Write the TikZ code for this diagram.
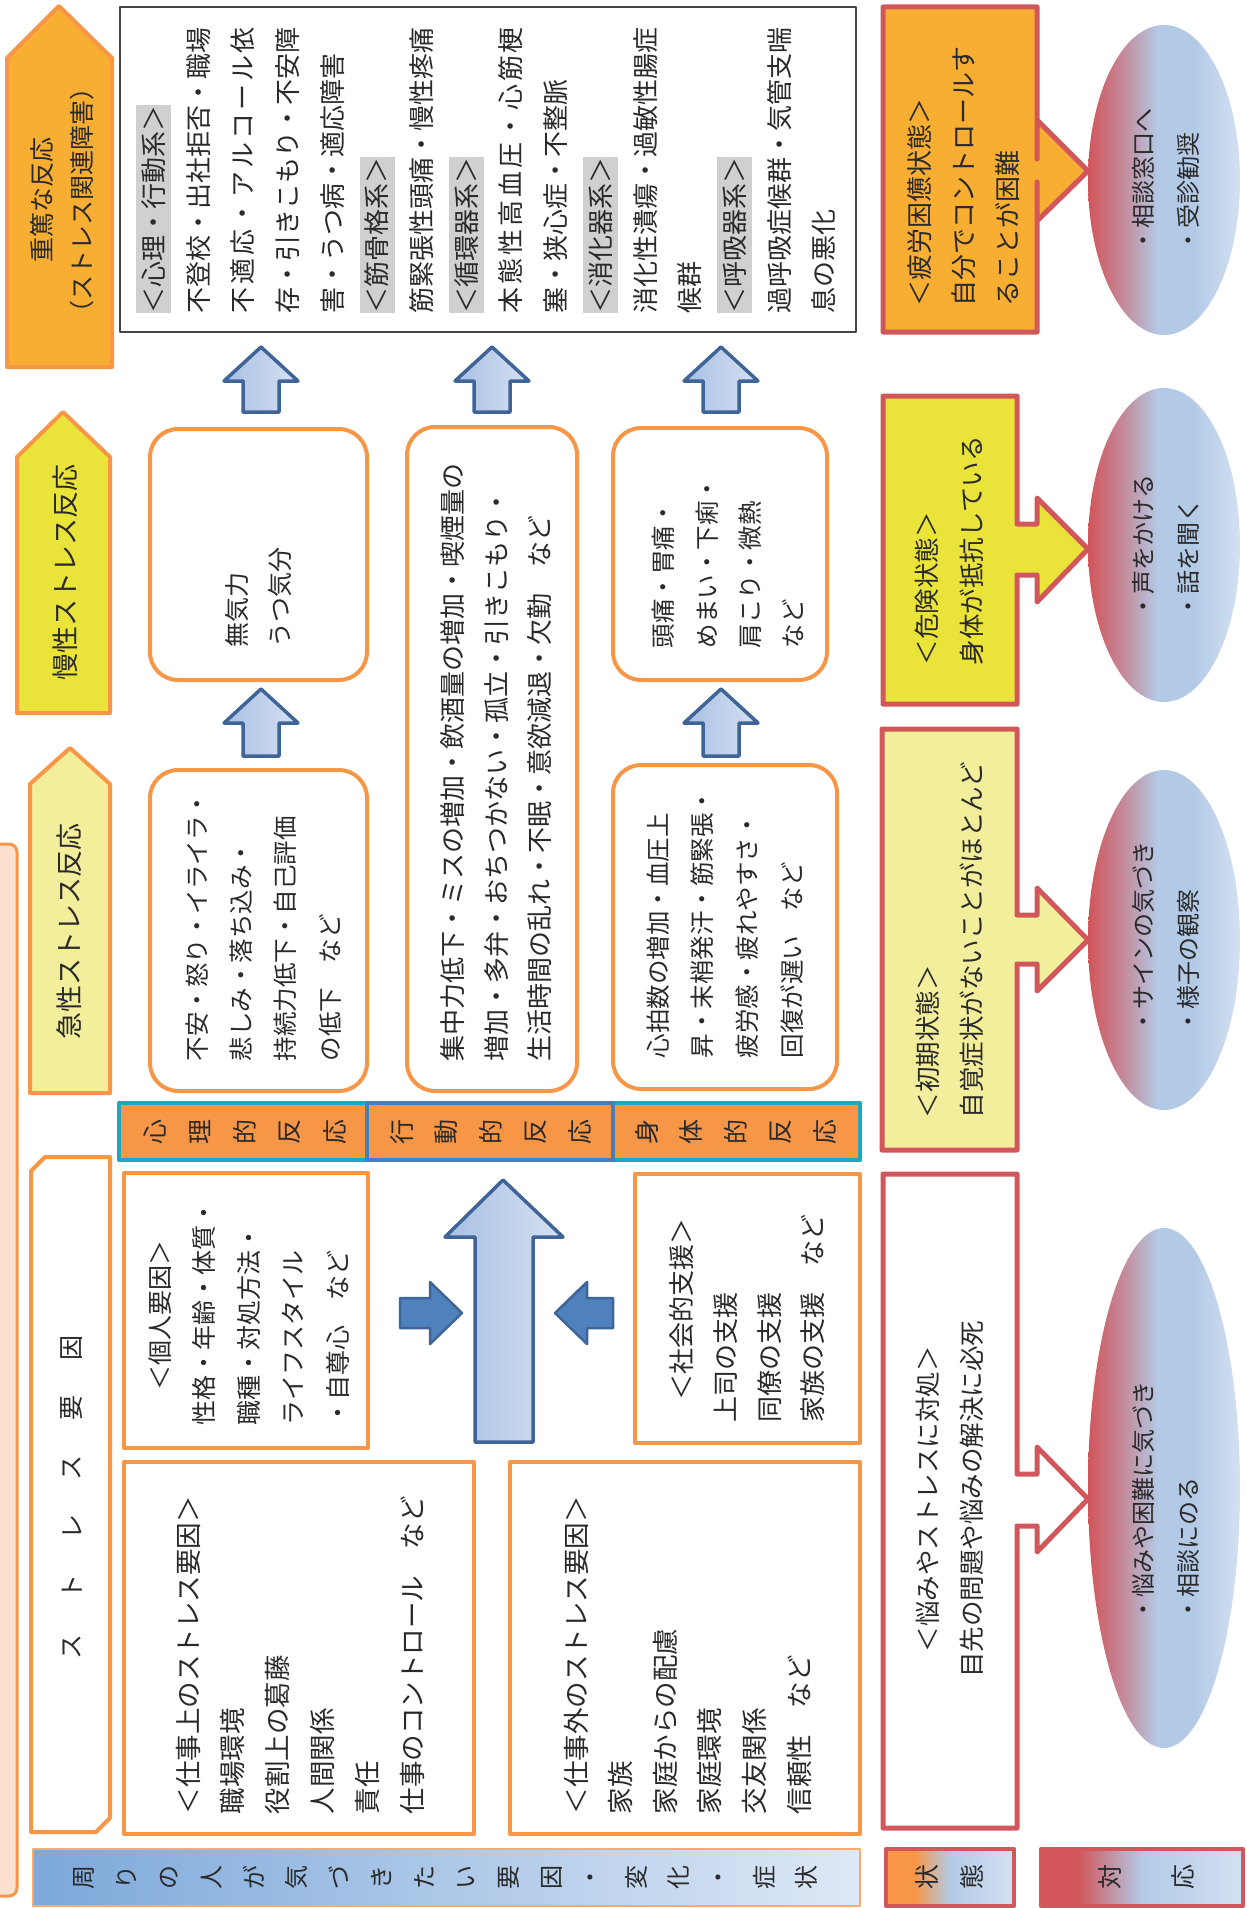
\documentclass[tikz,border=0pt]{standalone}
\usepackage{fontspec}
\setmainfont{Noto Sans CJK JP}
\definecolor{obor}{HTML}{F79646}
\definecolor{ofill}{HTML}{F8AD33}
\definecolor{yel}{HTML}{EAE43A}
\definecolor{pyel}{HTML}{F2EE9B}
\definecolor{peach}{HTML}{FCE0D0}
\definecolor{rbor}{HTML}{D2575B}
\definecolor{tealb}{HTML}{1FA7BC}
\definecolor{bbor}{HTML}{4A7EBB}
\definecolor{abor}{HTML}{3F6598}
\definecolor{afill}{HTML}{4F81BD}
\definecolor{la}{HTML}{A8BFE3}
\definecolor{lb}{HTML}{D6E1F2}
\definecolor{ered}{HTML}{D1555A}
\definecolor{emid}{HTML}{C38C9C}
\definecolor{eblu}{HTML}{B3CAE7}
\definecolor{eblu2}{HTML}{D3E0F1}
\definecolor{sblu}{HTML}{7CA8DA}
\definecolor{sblu2}{HTML}{DEE8F6}
\definecolor{hl}{HTML}{D0D0D0}
\definecolor{txt}{HTML}{2A2A2A}
\definecolor{gbor}{HTML}{444444}
\pgfdeclarehorizontalshading{ellsh}{100bp}{color(0bp)=(ered); color(25bp)=(ered); color(37bp)=(emid); color(48bp)=(eblu); color(60bp)=(eblu); color(75bp)=(eblu2); color(100bp)=(eblu2)}
\pgfdeclarehorizontalshading{stsh}{100bp}{color(0bp)=(obor); color(25bp)=(obor); color(36bp)=(obor); color(50bp)=(eblu); color(75bp)=(eblu2); color(100bp)=(eblu2)}
\pgfdeclarehorizontalshading{tash}{100bp}{color(0bp)=(ered); color(25bp)=(ered); color(34bp)=(ered); color(50bp)=(eblu); color(75bp)=(eblu2); color(100bp)=(eblu2)}
\newcommand\fsz[2]{\fontsize{#1}{#2}\selectfont}
\newcommand\hlb[1]{{\setlength\fboxsep{0pt}\colorbox{hl}{\rule[-0.3em]{0pt}{1.35em}#1}}}
\begin{document}
\begin{tikzpicture}[x=1pt,y=-1pt,line join=round,
  vt/.style={rotate=90,inner sep=0pt,outer sep=0pt,text=txt,align=left},
  ch/.style={rotate=90,inner sep=0pt,text=txt,font=\fsz{25}{30}},
  rbox/.style={draw=obor,line width=4pt,rounded corners=28pt,fill=white},
  obox/.style={draw=obor,line width=4pt,fill=white},
  larrow/.style={draw=abor,line width=3.5pt,left color=la,right color=lb},
  sarrow/.style={draw=abor,line width=2.5pt,fill=afill},
  call/.style={draw=rbor,line width=5pt},
  ell/.style={shading=ellsh},
]
\useasboundingbox (0,0) rectangle (1247,1908);
\clip (0,0) rectangle (1247,1908);

% ---------- left column arrows ----------
\path[draw=obor,line width=4pt,fill=ofill] (7,367) -- (7,58) -- (59,6) -- (112,58) -- (112,367) -- cycle;
\node[vt,align=center,font=\fsz{25}{40}] (severe) at (62,200) {重篤な反応\\（ストレス関連障害）};
\path[draw=obor,line width=4pt,fill=yel] (17,713) -- (17,457) -- (63,412) -- (110,457) -- (110,713) -- cycle;
\node[vt,font=\fsz{27}{30}] (chronic) at (65,572) {慢性ストレス反応};
\path[draw=obor,line width=4pt,fill=pyel] (30,1093) -- (30,784) -- (70,748) -- (110,784) -- (110,1093) -- cycle;
\node[vt,font=\fsz{27}{30}] (acute) at (69,931) {急性ストレス反応};

% peach panel
\path[fill=peach,draw=obor,line width=3pt,rounded corners=8pt] (-30,844) rectangle (17,1896);

% ---------- top text box ----------
\draw[draw=gbor,line width=1.5pt,fill=white] (120,7) rectangle (856,332);
\node[vt,anchor=west,font=\fsz{26}{44.7}] (disease) at (486,313) {%
\hlb{＜心理・行動系＞}\\
不登校・出社拒否・職場\\
\makebox[11em]{不\hfill 適\hfill 応\hfill ・\hfill ア\hfill ル\hfill コ\hfill ー\hfill ル\hfill 依}\\
存・引きこもり・不安障\\
害・うつ病・適応障害\\
\hlb{＜筋骨格系＞}\\
筋緊張性頭痛・慢性疼痛\\
\hlb{＜循環器系＞}\\
\makebox[11em]{本\hfill 態\hfill 性\hfill 高\hfill 血\hfill 圧\hfill ・\hfill 心\hfill 筋\hfill 梗}\\
塞・狭心症・不整脈\\
\hlb{＜消化器系＞}\\
消化性潰瘍・過敏性腸症\\
候群\\
\hlb{＜呼吸器系＞}\\
過呼吸症候群・気管支喘\\
息の悪化};

% ---------- small up arrows ----------
\foreach \cx/\tp/\bt in {261/347/412, 492/347/412, 721/347/412, 261/689/756, 721/689/756}
  \path[larrow] (\cx,\tp) -- (\cx+37,\tp+34) -- (\cx+18,\tp+34) -- (\cx+18,\bt) -- (\cx-18,\bt) -- (\cx-18,\tp+34) -- (\cx-37,\tp+34) -- cycle;

% ---------- reaction boxes ----------
\path[rbox] (150,429) rectangle (367,680);
\node[vt,anchor=west,font=\fsz{25}{43}] (apathy) at (258.5,647) {無気力\\うつ気分};
\path[rbox] (407,427) rectangle (577,1091);
\node[vt,anchor=west,font=\fsz{26}{43.5}] (behav) at (496.5,1061) {集中力低下・ミスの増加・飲酒量の増加・喫煙量の\\増加・多弁・おちつかない・孤立・引きこもり・\\生活時間の乱れ・不眠・意欲減退・欠勤　など};
\path[rbox] (613,428) rectangle (827,680);
\node[vt,anchor=west,font=\fsz{24.5}{43.3}] (somatic) at (728,648) {頭痛・胃痛・\\めまい・下痢・\\肩こり・微熱\\など};
\path[rbox] (150,770) rectangle (367,1091);
\node[vt,anchor=west,font=\fsz{24.5}{44.3}] (anxiety) at (263.5,1061) {不安・怒り・イライラ・\\悲しみ・落ち込み・\\持続力低下・自己評価\\の低下　など};
\path[rbox] (613,765) rectangle (837,1089);
\node[vt,anchor=west,font=\fsz{24.5}{44.7}] (heart) at (725,1058) {心拍数の増加・血圧上\\昇・末梢発汗・筋緊張・\\疲労感・疲れやすさ・\\回復が遅い　など};

% ---------- reaction strip ----------
\path[fill=obor,draw=tealb,line width=4pt] (119,1103) rectangle (367,1160);
\path[fill=obor,draw=tealb,line width=4pt] (613,1103) rectangle (860,1160);
\path[fill=obor,draw=bbor,line width=4pt] (367,1103) rectangle (613,1160);
\foreach \c [count=\i from 0] in {心,理,的,反,応} \node[ch] (ps\i) at ({155+45*\i},1132) {\c};
\foreach \c [count=\i from 0] in {行,動,的,反,応} \node[ch] (bh\i) at ({402+44.5*\i},1132) {\c};
\foreach \c [count=\i from 0] in {身,体,的,反,応} \node[ch] (sm\i) at ({647+44.5*\i},1132) {\c};

% ---------- stress factors ----------
\path[draw=obor,line width=4pt,fill=white] (31,1171) -- (45,1157) -- (110,1157) -- (110,1818) -- (96,1832) -- (31,1832) -- cycle;
\foreach \c [count=\i from 0] in {ス,ト,レ,ス,要,因} \node[ch] (sr\i) at (72,{1647-59.8*\i}) {\c};

\path[obox] (124,1173) rectangle (368,1448);
\node[vt,anchor=west,font=\fsz{25}{44.5}] (indiv) at (249,1425) {\hspace*{35pt}＜個人要因＞\\性格・年齢・体質・\\職種・対処方法・\\ライフスタイル\\・自尊心　など};
\path[obox] (635,1174) rectangle (860,1443);
\node[vt,anchor=west,font=\fsz{26}{43.7}] (social) at (747.5,1422) {\hspace*{22pt}＜社会的支援＞\\上司の支援\\同僚の支援\\家族の支援　など};

% big arrow and side arrows
\path[larrow] (503,1180) -- (563,1237) -- (533,1237) -- (533,1442) -- (475,1442) -- (475,1237) -- (445,1237) -- cycle;
\path[sarrow] (400,1298) -- (430,1298) -- (430,1282) -- (462,1313) -- (430,1344) -- (430,1328) -- (400,1328) -- cycle;
\path[sarrow] (613,1298) -- (587,1298) -- (587,1282) -- (555,1313) -- (587,1344) -- (587,1328) -- (613,1328) -- cycle;

\path[obox] (124,1462) rectangle (474,1834);
\node[vt,anchor=west,font=\fsz{26.5}{44.8}] (work) at (300,1814) {＜仕事上のストレス要因＞\\職場環境\\役割上の葛藤\\人間関係\\責任\\仕事のコントロール　など};
\path[obox] (510,1462) rectangle (860,1834);
\node[vt,anchor=west,font=\fsz{26.5}{44.6}] (private) at (687.5,1814) {＜仕事外のストレス要因＞\\家族\\家庭からの配慮\\家庭環境\\交友関係\\信頼性　など};

% ---------- bottom strip ----------
\path[left color=sblu,right color=sblu2,draw=obor!80,line width=2.5pt] (33,1849) rectangle (860,1906);
\foreach \c [count=\i from 0] in {周,り,の,人,が,気,づ,き,た,い,要,因,・,変,化,・,症,状} \node[ch,font=\fsz{24}{28}] (bs\i) at ({84+42.5*\i},1877) {\c};

\path[shading=stsh,draw=rbor,line width=4pt] (886,1849) rectangle (1014,1906);
\node[ch] (st1) at (927,1877) {状};
\node[ch] (st2) at (972,1877) {態};
\path[shading=tash,draw=rbor,line width=4pt] (1041,1849) rectangle (1243,1906);
\node[ch] (ta1) at (1110,1877) {対};
\node[ch] (ta2) at (1183,1877) {応};

% ---------- right column: states ----------
\path[call,fill=ofill] (883,7) -- (1037,7) -- (1037,159) -- (1037,120) -- (1088,171) -- (1037,221) -- (1037,182) -- (1037,332) -- (883,332) -- cycle;
\node[vt,anchor=west,font=\fsz{26}{44}] (exhaust) at (964,306) {＜疲労困憊状態＞\\自分でコントロールす\\ることが困難};

\path[call,fill=yel] (883,396) -- (1017,396) -- (1017,524) -- (1037,524) -- (1037,498) -- (1088,549) -- (1037,602) -- (1037,575) -- (1017,575) -- (1017,704) -- (883,704) -- cycle;
\node[vt,anchor=west,font=\fsz{25.5}{45}] (danger) at (949.5,665) {＜危険状態＞\\身体が抵抗している};

\path[call,fill=pyel] (882,729) -- (1017,729) -- (1017,915) -- (1037,915) -- (1037,888) -- (1088,940) -- (1037,991) -- (1037,964) -- (1017,964) -- (1017,1150) -- (882,1150) -- cycle;
\node[vt,anchor=west,font=\fsz{25.5}{44}] (early) at (950,1118) {＜初期状態＞\\自覚症状がないことがほとんど};

\path[call,fill=white] (883,1174) -- (1017,1174) -- (1017,1474) -- (1037,1474) -- (1037,1447) -- (1088,1499) -- (1037,1552) -- (1037,1526) -- (1017,1526) -- (1017,1828) -- (883,1828) -- cycle;
\node[vt,align=center,font=\fsz{25.5}{44}] (worry) at (950,1499) {＜悩みやストレスに対処＞\\目先の問題や悩みの解決に必死};

% ---------- ellipses ----------
\path[ell] (1164,180) ellipse [x radius=76, y radius=155];
\node[vt,anchor=west,font=\fsz{24}{45}] (resp1) at (1165.5,252) {・相談窓口へ\\・受診勧奨};
\path[ell] (1164,545) ellipse [x radius=76, y radius=157];
\node[vt,anchor=west,font=\fsz{24}{45}] (resp2) at (1165.5,618) {・声をかける\\・話を聞く};
\path[ell] (1164,940) ellipse [x radius=76, y radius=170];
\node[vt,anchor=west,font=\fsz{24}{45}] (resp3) at (1165.5,1033) {・サインの気づき\\・様子の観察};
\path[ell] (1164,1488) ellipse [x radius=76, y radius=260];
\node[vt,anchor=west,font=\fsz{24}{45}] (resp4) at (1165.5,1621) {・悩みや困難に気づき\\・相談にのる};
\end{tikzpicture}
\end{document}
